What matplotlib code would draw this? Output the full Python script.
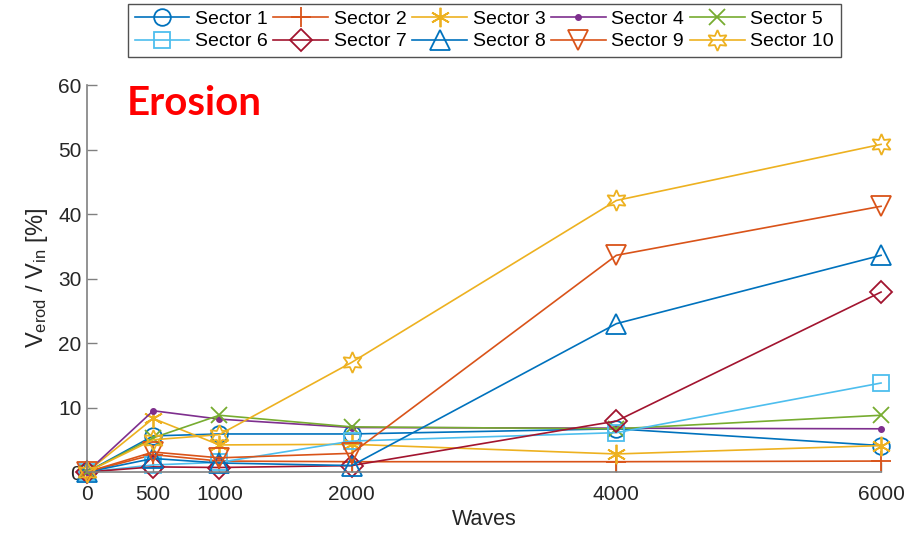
import numpy as np
import matplotlib
matplotlib.use('Agg')
import matplotlib.pyplot as plt

plt.rcParams['font.family'] = ['Liberation Sans', 'DejaVu Sans']
plt.rcParams['mathtext.fontset'] = 'custom'
plt.rcParams['mathtext.rm'] = 'Liberation Sans'
plt.rcParams['mathtext.it'] = 'Liberation Sans:italic'

# number of waves
waves = [0, 500, 1000, 2000, 4000, 6000]

# eroded volume ratio per sector [%]
sector1 = [0, 5.6, 5.9, 5.9, 6.7, 4.1]
sector2 = [0, 2.7, 1.7, 1.6, 1.6, 1.7]
sector3 = [0, 8.3, 4.2, 4.3, 2.8, 4.1]
sector4 = [0, 9.5, 8.2, 6.9, 6.8, 6.7]
sector5 = [0, 5.3, 8.8, 7.0, 6.7, 8.8]
sector6 = [0, 1.1, 1.5, 4.8, 6.1, 13.8]
sector7 = [0, 0.8, 0.7, 1.0, 7.9, 27.9]
sector8 = [0, 2.1, 1.4, 1.0, 23.0, 33.6]
sector9 = [0, 3.1, 2.2, 2.9, 33.6, 41.2]
sector10 = [0, 5.0, 5.8, 17.0, 42.1, 50.8]

series = [sector1, sector2, sector3, sector4, sector5,
          sector6, sector7, sector8, sector9, sector10]
labels = ['Sector %d' % (i + 1) for i in range(10)]

# matlab default colour order
cores = ['#0072BD', '#D95319', '#EDB120', '#7E2F8E', '#77AC30',
         '#4DBEEE', '#A2142F', '#0072BD', '#D95319', '#EDB120']
marcadores = ['o', '+', (6, 2, 0), '.', 'x', 's', 'D', '^', 'v', (6, 1, 0)]
tamanhos = [12, 15, 14, 8, 11, 11, 11, 15, 15, 15]

fig = plt.figure(figsize=(9.19, 5.33), dpi=100)
ax = fig.add_axes([0.0947, 0.1144, 0.864, 0.7261])

linhas = []
for y, c, m, s, lab in zip(series, cores, marcadores, tamanhos, labels):
    if m == '.':
        l, = ax.plot(waves, y, color=c, marker=m, ms=s, lw=1.2, label=lab, clip_on=False)
    else:
        l, = ax.plot(waves, y, color=c, marker=m, ms=s, lw=1.2, mfc='none',
                     mew=1.3, label=lab, clip_on=False)
    linhas.append(l)

ax.set_xlim(0, 6000)
ax.set_ylim(0, 60)
ax.set_xticks(waves)
ax.set_yticks(np.arange(0, 61, 10))
ax.spines['top'].set_visible(False)
ax.spines['right'].set_visible(False)
for sp in ['left', 'bottom']:
    ax.spines[sp].set_color('#808080')
    ax.spines[sp].set_linewidth(1.2)
ax.tick_params(direction='in', length=7, width=1.0, color='#808080',
               labelcolor='#262626', labelsize=15)
ax.tick_params(axis='x', pad=9)
ax.tick_params(axis='y', pad=4)

ax.set_xlabel('Waves', fontsize=15.5, color='#262626', labelpad=4)
ax.set_ylabel(r'V$_{\mathrm{erod}}$ / V$_{\mathrm{in}}$ [%]', fontsize=17,
              color='#262626', labelpad=6)

ax.text(0.05, 1.0, 'Erosion', transform=ax.transAxes, color='red',
        fontsize=29, fontweight='bold', family='Lato', va='top', ha='left')

# legend filled row by row
ordem = [0, 5, 1, 6, 2, 7, 3, 8, 4, 9]
leg = fig.legend([linhas[i] for i in ordem], [labels[i] for i in ordem],
                 loc='upper center', bbox_to_anchor=(0.527, 0.997), ncol=5,
                 fontsize=14, frameon=True, fancybox=False, edgecolor='#262626',
                 handlelength=2.8, columnspacing=0.3, handletextpad=0.3,
                 labelspacing=0.25, borderpad=0.35, borderaxespad=0.1)
leg.get_frame().set_linewidth(1.0)

plt.savefig('out.png', dpi=100)
